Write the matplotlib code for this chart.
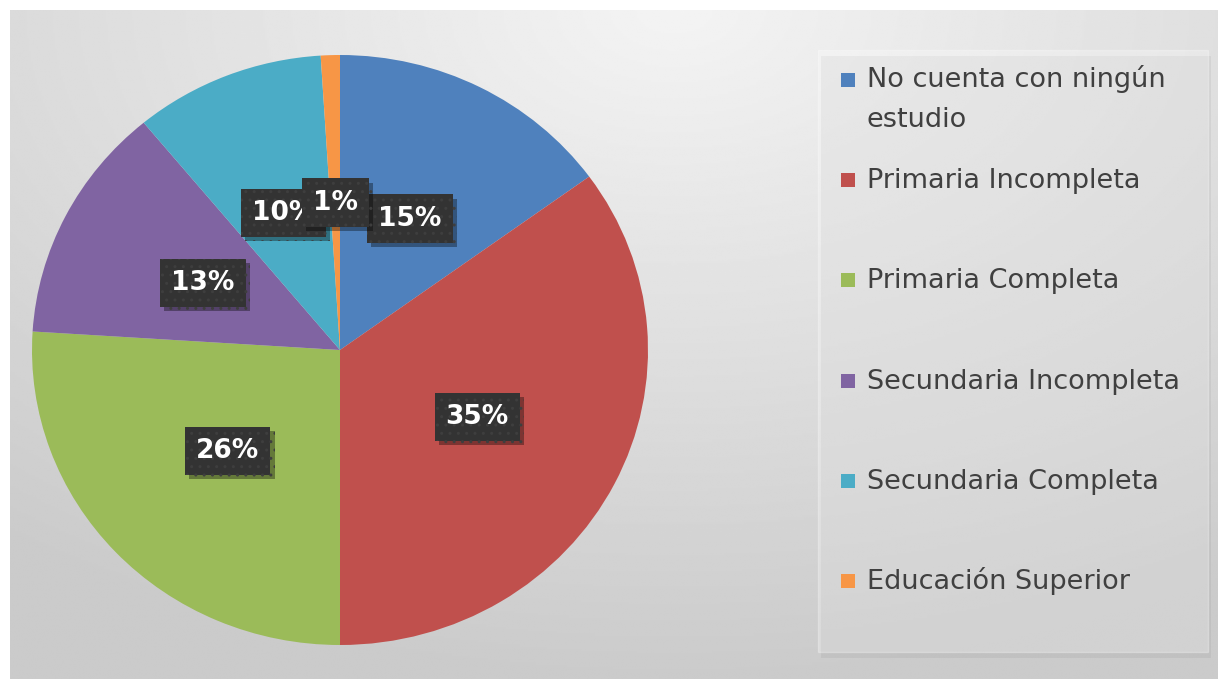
import numpy as np
import matplotlib
matplotlib.use("Agg")
import matplotlib.pyplot as plt
import matplotlib.patheffects as pe
from matplotlib.patches import Rectangle

# --- DATA ---
categories = ["No cuenta con ningún\nestudio", "Primaria Incompleta", "Primaria Completa",
              "Secundaria Incompleta", "Secundaria Completa", "Educación Superior"]
shares = [15, 35, 26, 13, 10, 1]
colors = ["#4F81BD", "#C0504D", "#9BBB59", "#8064A2", "#4BACC6", "#F79646"]

W, H = 1218, 679
fig = plt.figure(figsize=(W / 100, H / 100), dpi=100, facecolor="white")


def px_axes(x0, y0, x1, y1):
    # axes placed by a pixel box, y counted from the top edge
    return fig.add_axes([x0 / W, 1 - y1 / H, (x1 - x0) / W, (y1 - y0) / H])


# --- GRAY GRADIENT PANEL ---
bg = px_axes(10, 10, W, H)
yy, xx = np.mgrid[0:1:300j, 0:1:600j]
dist = np.sqrt(((xx - 0.55) / 0.9) ** 2 + yy ** 2)
shade = 0.955 - 0.16 * np.clip(dist, 0, 1)
bg.imshow(shade, cmap="gray", vmin=0, vmax=1, aspect="auto", interpolation="bilinear")
bg.axis("off")

# --- PIE ---
ax = px_axes(32, 55, 648, 645)
wedges, texts, autotexts = ax.pie(
    shares, colors=colors, startangle=90, counterclock=False,
    autopct="%1.0f%%", pctdistance=0.5,
    wedgeprops=dict(linewidth=0),
)
ax.set_aspect("auto")
ax.set_xlim(-1, 1)
ax.set_ylim(-1, 1)
ax.axis("off")

plt.rcParams["hatch.linewidth"] = 1.0
for t in autotexts:
    t.set_color("white")
    t.set_fontsize(19)
    t.set_fontweight("bold")
    t.set_bbox(dict(boxstyle="square,pad=0.42", facecolor="#333333",
                    edgecolor="#3e3e3e", hatch="..", linewidth=0))
    t.get_bbox_patch().set_path_effects(
        [pe.withSimplePatchShadow(offset=(3, -3), shadow_rgbFace="black", alpha=0.35)])

# --- LEGEND ---
lg = px_axes(818, 50, 1208, 652)
lg.set_xlim(818, 1208)
lg.set_ylim(652, 50)
lg.axis("off")
box = Rectangle((818, 50), 390, 602, facecolor="white", alpha=0.28,
                edgecolor="white", linewidth=1, clip_on=False)
box.set_path_effects([pe.withSimplePatchShadow(offset=(2, -4), alpha=0.08)])
lg.add_patch(box)

line_gap = 39
for i, (label, color) in enumerate(zip(categories, colors)):
    base = 88 + 100.2 * i
    lg.add_patch(Rectangle((841, base - 15), 14, 14, facecolor=color, linewidth=0))
    # baseline anchoring uses the last line, so push wrapped labels down
    extra = label.count("\n") * line_gap
    lg.text(867, base + extra, label, ha="left", va="baseline", fontsize=19.5,
            color="#404040", linespacing=1.72)

fig.savefig("out.png", dpi=100)
